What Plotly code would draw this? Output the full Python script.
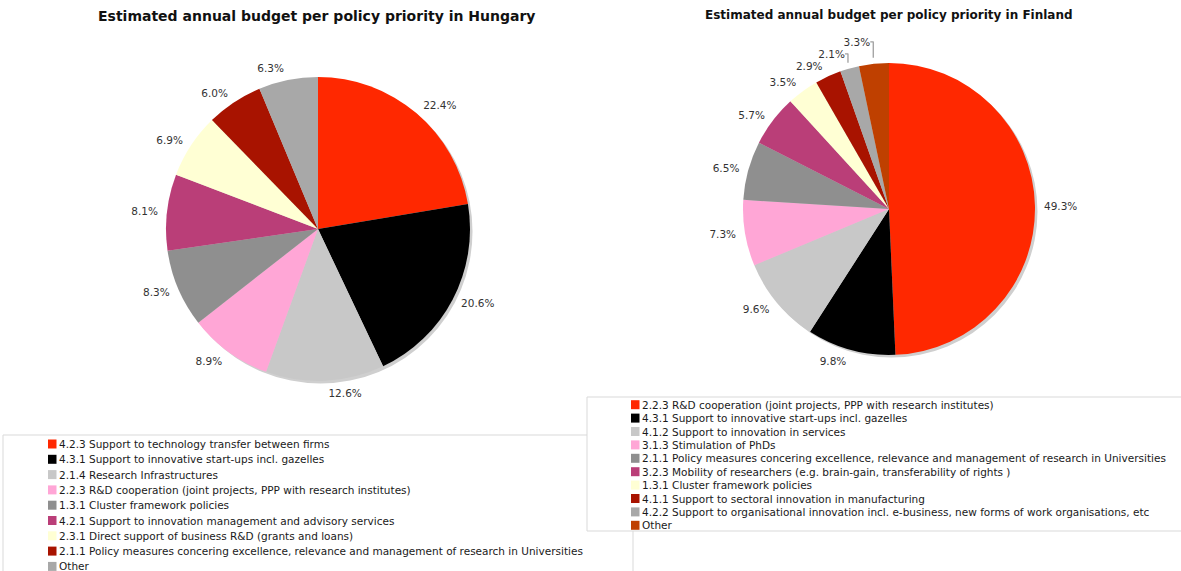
import plotly.graph_objects as go

W, H = 1181, 571

# Hungary
hu_labels = [
    "4.2.3 Support to technology transfer between firms",
    "4.3.1 Support to innovative start-ups incl. gazelles",
    "2.1.4 Research Infrastructures",
    "2.2.3 R&D cooperation (joint projects, PPP with research institutes)",
    "1.3.1 Cluster framework policies",
    "4.2.1 Support to innovation management and advisory services",
    "2.3.1 Direct support of business R&D (grants and loans)",
    "2.1.1 Policy measures concering excellence, relevance and management of research in Universities",
    "Other",
]
hu_values = [22.4, 20.6, 12.6, 8.9, 8.3, 8.1, 6.9, 6.0, 6.3]
hu_colors = ["#FF2800", "#000000", "#C8C8C8", "#FFA6D6", "#8F8F8F",
             "#BA3E78", "#FFFFD4", "#A81300", "#A8A8A8"]

# Finland
fi_labels = [
    "2.2.3 R&D cooperation (joint projects, PPP with research institutes)",
    "4.3.1 Support to innovative start-ups incl. gazelles",
    "4.1.2 Support to innovation in services",
    "3.1.3 Stimulation of PhDs",
    "2.1.1 Policy measures concering excellence, relevance and management of research in Universities",
    "3.2.3 Mobility of researchers (e.g. brain-gain, transferability of rights )",
    "1.3.1 Cluster framework policies",
    "4.1.1 Support to sectoral innovation in manufacturing",
    "4.2.2 Support to organisational innovation incl. e-business, new forms of work organisations, etc",
    "Other",
]
fi_values = [49.3, 9.8, 9.6, 7.3, 6.5, 5.7, 3.5, 2.9, 2.1, 3.3]
fi_colors = ["#FF2800", "#000000", "#C8C8C8", "#FFA6D6", "#8F8F8F",
             "#BA3E78", "#FFFFD4", "#A81300", "#A8A8A8", "#BF4000"]

FONT = "DejaVu Sans, Verdana, sans-serif"
LABEL_COLOR = "#333333"
CONNECTOR_COLOR = "#A0A0A0"


def px(x):
    return x / W


def py(y):
    return 1 - y / H


def pie_domain(cx, cy, r):
    return dict(x=[px(cx - r), px(cx + r)], y=[py(cy + r), py(cy - r)])


pies = [
    dict(name="Hungary", labels=hu_labels, values=hu_values, colors=hu_colors,
         cx=318, cy=229, r=152),
    dict(name="Finland", labels=fi_labels, values=fi_values, colors=fi_colors,
         cx=889, cy=209, r=146),
]

LABEL_GAP = 6  # extra distance between the pie rim and its percentage labels

fig = go.Figure()
shapes = []
annotations = []

for p in pies:
    # soft drop shadow under each pie
    off = 2.5
    shapes.append(dict(
        type="circle", xref="paper", yref="paper", layer="below",
        x0=px(p["cx"] - p["r"] + off), x1=px(p["cx"] + p["r"] + off),
        y0=py(p["cy"] + p["r"] + off), y1=py(p["cy"] - p["r"] + off),
        fillcolor="#CFCFCF", line=dict(width=0),
    ))
    # coloured slices
    fig.add_trace(go.Pie(
        name=p["name"],
        labels=p["labels"], values=p["values"],
        marker=dict(colors=p["colors"], line=dict(width=0)),
        sort=False, direction="clockwise", rotation=0,
        textinfo="none",
        domain=pie_domain(p["cx"], p["cy"], p["r"]),
        showlegend=False, hoverinfo="label+value",
    ))
    # transparent ring slightly larger, carrying the outside percentage labels
    # (connector lines take the font colour, the text itself is recoloured)
    fig.add_trace(go.Pie(
        name=p["name"] + " labels",
        labels=p["labels"], values=p["values"],
        marker=dict(colors=["rgba(0,0,0,0)"] * len(p["values"]),
                    line=dict(width=0)),
        sort=False, direction="clockwise", rotation=0,
        texttemplate="<span style='color:" + LABEL_COLOR + "'>%{value:.1f}%</span>",
        textinfo="text",
        textposition="outside",
        outsidetextfont=dict(family=FONT, size=10.5, color=CONNECTOR_COLOR),
        domain=pie_domain(p["cx"], p["cy"], p["r"] + LABEL_GAP),
        showlegend=False, hoverinfo="skip",
    ))

# titles
annotations.append(dict(
    text="<b>Estimated annual budget per policy priority in Hungary</b>",
    x=px(317), y=py(16), xref="paper", yref="paper", showarrow=False,
    xanchor="center", yanchor="middle",
    font=dict(family=FONT, size=14, color="#111111"),
))
annotations.append(dict(
    text="<b>Estimated annual budget per policy priority in Finland</b>",
    x=px(888.5), y=py(15), xref="paper", yref="paper", showarrow=False,
    xanchor="center", yanchor="middle",
    font=dict(family=FONT, size=12, color="#111111"),
))

# legend panels: (box, first row centre, row step, swatch left)
legends = [
    dict(labels=hu_labels, colors=hu_colors, box=(3, 435, 633, 600),
         y0=444, step=15.3, sx=48),
    dict(labels=fi_labels, colors=fi_colors, box=(587, 397, 1200, 531),
         y0=404.7, step=13.4, sx=631),
]
for lg in legends:
    bx0, by0, bx1, by1 = lg["box"]
    shapes.append(dict(
        type="rect", xref="paper", yref="paper", layer="above",
        x0=px(bx0), x1=px(bx1), y0=py(by1), y1=py(by0),
        fillcolor="white", line=dict(color="#D9D9D9", width=1),
    ))
    for i, (lab, col) in enumerate(zip(lg["labels"], lg["colors"])):
        yc = lg["y0"] + i * lg["step"]
        shapes.append(dict(
            type="rect", xref="paper", yref="paper", layer="above",
            x0=px(lg["sx"]), x1=px(lg["sx"] + 8.5),
            y0=py(yc + 4.5), y1=py(yc - 4.5),
            fillcolor=col, line=dict(width=0),
        ))
        annotations.append(dict(
            text=lab, x=px(lg["sx"] + 8.5), y=py(yc),
            xref="paper", yref="paper", showarrow=False,
            xanchor="left", yanchor="middle",
            font=dict(family=FONT, size=10.5, color="#1A1A1A"),
        ))

fig.update_layout(
    width=W, height=H,
    margin=dict(l=0, r=0, t=0, b=0),
    paper_bgcolor="white", plot_bgcolor="white",
    shapes=shapes, annotations=annotations,
    showlegend=False,
)

fig.write_html("out.html")
